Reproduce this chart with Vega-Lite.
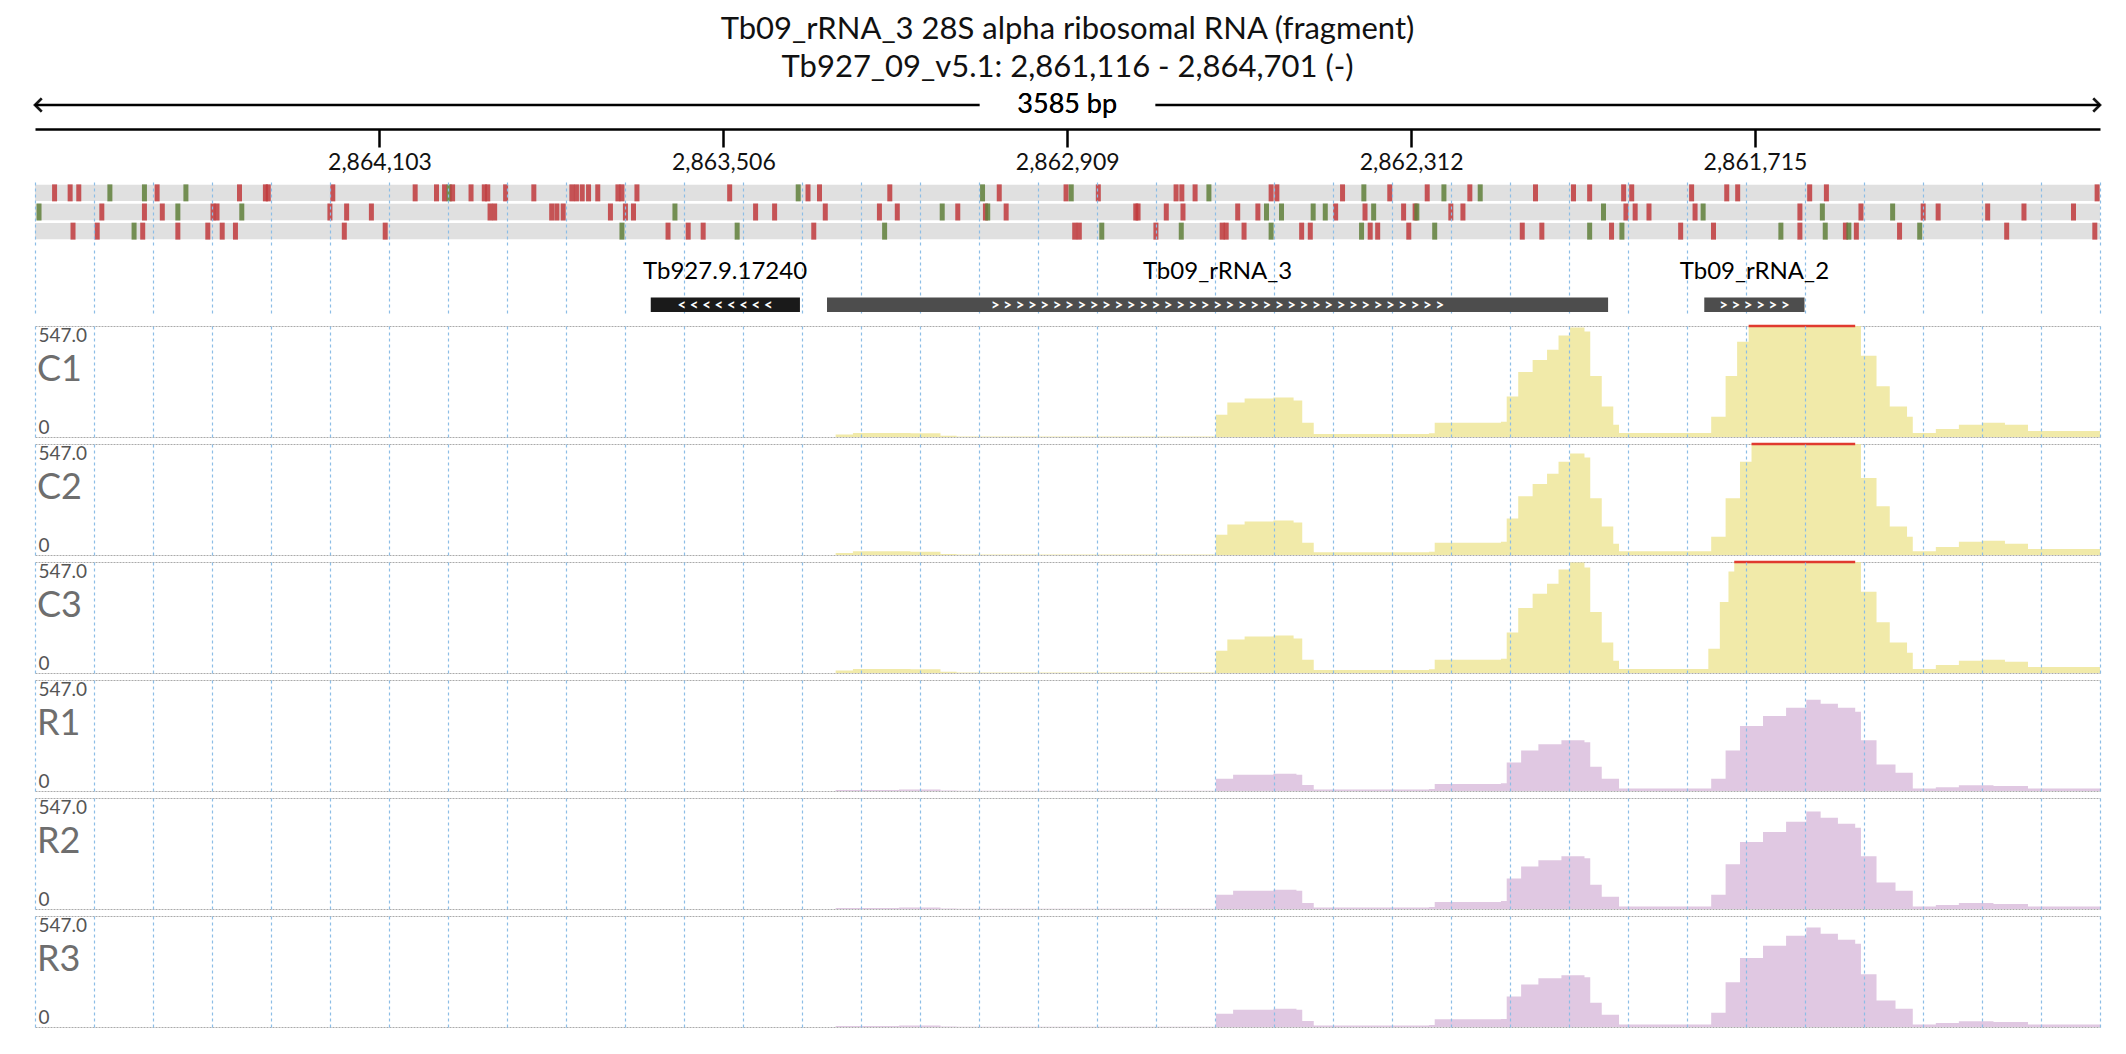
{
  "$schema": "https://vega.github.io/schema/vega-lite/v6.json",
  "background": "white",
  "padding": {"left": 30, "right": 30, "top": 14, "bottom": 5},
  "title": {
    "text": ["Tb09_rRNA_3  28S alpha ribosomal RNA (fragment)", "Tb927_09_v5.1: 2,861,116 - 2,864,701 (-)"],
    "fontSize": 31, "font": "Lato", "fontWeight": "normal", "color": "#111", "lineHeight": 38, "anchor": "middle", "offset": 6
  },
  "config": {
    "view": {"stroke": null},
    "font": "Lato",
    "concat": {"spacing": 5}
  },
  "resolve": {"scale": {"color": "independent"}},
  "vconcat": [
    {
      "width": 2065, "height": 30,
      "data": {"values": [{"start": 0, "end": 1640}, {"start": 1945, "end": 3585}]},
      "layer": [
        {"mark": {"type": "rule", "color": "black", "strokeWidth": 2.5},
         "encoding": {"x": {"field": "start", "type": "quantitative", "scale": {"domain": [0, 3585], "nice": false, "zero": false}, "axis": null},
                      "x2": {"field": "end"}, "y": {"datum": 0.5, "type": "quantitative", "scale": {"domain": [0, 1]}, "axis": null}}},
        {"mark": {"type": "point", "shape": "M1,-1L0,0L1,1", "filled": false, "stroke": "black", "strokeWidth": 2.5, "size": 180},
         "encoding": {"x": {"datum": 0, "type": "quantitative"}, "y": {"datum": 0.5, "type": "quantitative"}}},
        {"mark": {"type": "point", "shape": "M-1,-1L0,0L-1,1", "filled": false, "stroke": "black", "strokeWidth": 2.5, "size": 180},
         "encoding": {"x": {"datum": 3585, "type": "quantitative"}, "y": {"datum": 0.5, "type": "quantitative"}}},
        {"mark": {"type": "text", "fontSize": 27, "font": "Lato", "fontWeight": "normal", "baseline": "middle"},
         "encoding": {"x": {"datum": 1792, "type": "quantitative"}, "y": {"datum": 0.5, "type": "quantitative"}, "text": {"value": "3585 bp"}}}
      ]
    },
    {
      "width": 2065, "height": 1,
      "data": {"values": [{"offset": 0}]},
      "mark": {"type": "point", "opacity": 0},
      "encoding": {
        "x": {"field": "offset", "type": "quantitative", "scale": {"domain": [0, 3585], "nice": false, "zero": false},
              "axis": {"orient": "bottom", "values": [598, 1195, 1792, 2389, 2986], "labelExpr": "format(2864701 - datum.value, ',')",
                       "domainColor": "black", "domainWidth": 2.5, "tickColor": "black", "tickWidth": 2.5, "tickSize": 18,
                       "labelFontSize": 23, "labelFont": "Lato", "labelColor": "#111", "labelPadding": 4, "title": null, "grid": false}}
      }
    },
    {
      "width": 2065, "height": 66,
      "data": {"values": [
        {"frame": 1, "offset": 34, "type": "r"}, {"frame": 1, "offset": 61, "type": "r"}, {"frame": 1, "offset": 76, "type": "r"}, {"frame": 1, "offset": 130, "type": "g"},
        {"frame": 1, "offset": 190, "type": "g"}, {"frame": 1, "offset": 212, "type": "r"}, {"frame": 1, "offset": 262, "type": "g"}, {"frame": 1, "offset": 355, "type": "r"},
        {"frame": 1, "offset": 400, "type": "r"}, {"frame": 1, "offset": 405, "type": "r"}, {"frame": 1, "offset": 517, "type": "r"}, {"frame": 1, "offset": 660, "type": "r"},
        {"frame": 1, "offset": 697, "type": "r"}, {"frame": 1, "offset": 711, "type": "r"}, {"frame": 1, "offset": 719, "type": "g"}, {"frame": 1, "offset": 725, "type": "r"},
        {"frame": 1, "offset": 757, "type": "r"}, {"frame": 1, "offset": 780, "type": "r"}, {"frame": 1, "offset": 786, "type": "r"}, {"frame": 1, "offset": 817, "type": "r"},
        {"frame": 1, "offset": 866, "type": "r"}, {"frame": 1, "offset": 932, "type": "r"}, {"frame": 1, "offset": 940, "type": "r"}, {"frame": 1, "offset": 950, "type": "r"},
        {"frame": 1, "offset": 961, "type": "r"}, {"frame": 1, "offset": 977, "type": "r"}, {"frame": 1, "offset": 1012, "type": "r"}, {"frame": 1, "offset": 1019, "type": "r"},
        {"frame": 1, "offset": 1045, "type": "r"}, {"frame": 1, "offset": 1206, "type": "r"}, {"frame": 1, "offset": 1325, "type": "g"}, {"frame": 1, "offset": 1342, "type": "r"},
        {"frame": 1, "offset": 1362, "type": "r"}, {"frame": 1, "offset": 1484, "type": "r"}, {"frame": 1, "offset": 1645, "type": "g"}, {"frame": 1, "offset": 1674, "type": "r"},
        {"frame": 1, "offset": 1790, "type": "r"}, {"frame": 1, "offset": 1799, "type": "g"}, {"frame": 1, "offset": 1846, "type": "r"}, {"frame": 1, "offset": 1981, "type": "r"},
        {"frame": 1, "offset": 1991, "type": "r"}, {"frame": 1, "offset": 2014, "type": "r"}, {"frame": 1, "offset": 2038, "type": "g"}, {"frame": 1, "offset": 2146, "type": "r"},
        {"frame": 1, "offset": 2156, "type": "r"}, {"frame": 1, "offset": 2270, "type": "r"}, {"frame": 1, "offset": 2307, "type": "g"}, {"frame": 1, "offset": 2352, "type": "r"},
        {"frame": 1, "offset": 2417, "type": "r"}, {"frame": 1, "offset": 2446, "type": "g"}, {"frame": 1, "offset": 2491, "type": "r"}, {"frame": 1, "offset": 2509, "type": "g"},
        {"frame": 1, "offset": 2605, "type": "r"}, {"frame": 1, "offset": 2671, "type": "r"}, {"frame": 1, "offset": 2699, "type": "r"}, {"frame": 1, "offset": 2758, "type": "r"},
        {"frame": 1, "offset": 2772, "type": "r"}, {"frame": 1, "offset": 2876, "type": "r"}, {"frame": 1, "offset": 2937, "type": "r"}, {"frame": 1, "offset": 2956, "type": "r"},
        {"frame": 1, "offset": 3081, "type": "r"}, {"frame": 1, "offset": 3110, "type": "r"}, {"frame": 1, "offset": 3580, "type": "r"},
        {"frame": 2, "offset": 7, "type": "g"}, {"frame": 2, "offset": 116, "type": "r"}, {"frame": 2, "offset": 190, "type": "r"}, {"frame": 2, "offset": 221, "type": "r"},
        {"frame": 2, "offset": 248, "type": "g"}, {"frame": 2, "offset": 309, "type": "r"}, {"frame": 2, "offset": 316, "type": "r"}, {"frame": 2, "offset": 359, "type": "g"},
        {"frame": 2, "offset": 512, "type": "r"}, {"frame": 2, "offset": 541, "type": "r"}, {"frame": 2, "offset": 584, "type": "r"}, {"frame": 2, "offset": 790, "type": "r"},
        {"frame": 2, "offset": 798, "type": "r"}, {"frame": 2, "offset": 897, "type": "r"}, {"frame": 2, "offset": 906, "type": "r"}, {"frame": 2, "offset": 917, "type": "r"},
        {"frame": 2, "offset": 999, "type": "r"}, {"frame": 2, "offset": 1025, "type": "r"}, {"frame": 2, "offset": 1039, "type": "r"}, {"frame": 2, "offset": 1111, "type": "g"},
        {"frame": 2, "offset": 1251, "type": "r"}, {"frame": 2, "offset": 1284, "type": "r"}, {"frame": 2, "offset": 1372, "type": "r"}, {"frame": 2, "offset": 1466, "type": "r"},
        {"frame": 2, "offset": 1497, "type": "r"}, {"frame": 2, "offset": 1575, "type": "g"}, {"frame": 2, "offset": 1602, "type": "r"}, {"frame": 2, "offset": 1650, "type": "r"},
        {"frame": 2, "offset": 1654, "type": "g"}, {"frame": 2, "offset": 1686, "type": "r"}, {"frame": 2, "offset": 1911, "type": "r"}, {"frame": 2, "offset": 1915, "type": "r"},
        {"frame": 2, "offset": 1964, "type": "r"}, {"frame": 2, "offset": 1993, "type": "r"}, {"frame": 2, "offset": 2088, "type": "r"}, {"frame": 2, "offset": 2123, "type": "r"},
        {"frame": 2, "offset": 2138, "type": "g"}, {"frame": 2, "offset": 2164, "type": "g"}, {"frame": 2, "offset": 2219, "type": "g"}, {"frame": 2, "offset": 2240, "type": "g"},
        {"frame": 2, "offset": 2258, "type": "r"}, {"frame": 2, "offset": 2309, "type": "r"}, {"frame": 2, "offset": 2324, "type": "g"}, {"frame": 2, "offset": 2376, "type": "r"},
        {"frame": 2, "offset": 2396, "type": "r"}, {"frame": 2, "offset": 2399, "type": "g"}, {"frame": 2, "offset": 2458, "type": "r"}, {"frame": 2, "offset": 2479, "type": "r"},
        {"frame": 2, "offset": 2723, "type": "g"}, {"frame": 2, "offset": 2762, "type": "r"}, {"frame": 2, "offset": 2778, "type": "r"}, {"frame": 2, "offset": 2802, "type": "r"},
        {"frame": 2, "offset": 2882, "type": "r"}, {"frame": 2, "offset": 2896, "type": "g"}, {"frame": 2, "offset": 3064, "type": "r"}, {"frame": 2, "offset": 3103, "type": "g"},
        {"frame": 2, "offset": 3170, "type": "r"}, {"frame": 2, "offset": 3225, "type": "g"}, {"frame": 2, "offset": 3278, "type": "r"}, {"frame": 2, "offset": 3304, "type": "r"},
        {"frame": 2, "offset": 3390, "type": "r"}, {"frame": 2, "offset": 3453, "type": "r"}, {"frame": 2, "offset": 3539, "type": "r"},
        {"frame": 3, "offset": 66, "type": "r"}, {"frame": 3, "offset": 108, "type": "r"}, {"frame": 3, "offset": 172, "type": "g"}, {"frame": 3, "offset": 187, "type": "r"},
        {"frame": 3, "offset": 248, "type": "r"}, {"frame": 3, "offset": 300, "type": "r"}, {"frame": 3, "offset": 325, "type": "r"}, {"frame": 3, "offset": 348, "type": "r"},
        {"frame": 3, "offset": 537, "type": "r"}, {"frame": 3, "offset": 608, "type": "r"}, {"frame": 3, "offset": 1019, "type": "g"}, {"frame": 3, "offset": 1099, "type": "r"},
        {"frame": 3, "offset": 1134, "type": "r"}, {"frame": 3, "offset": 1160, "type": "r"}, {"frame": 3, "offset": 1219, "type": "g"}, {"frame": 3, "offset": 1352, "type": "r"},
        {"frame": 3, "offset": 1475, "type": "g"}, {"frame": 3, "offset": 1805, "type": "r"}, {"frame": 3, "offset": 1813, "type": "r"}, {"frame": 3, "offset": 1852, "type": "g"},
        {"frame": 3, "offset": 1946, "type": "r"}, {"frame": 3, "offset": 1990, "type": "g"}, {"frame": 3, "offset": 2061, "type": "r"}, {"frame": 3, "offset": 2068, "type": "r"},
        {"frame": 3, "offset": 2099, "type": "r"}, {"frame": 3, "offset": 2146, "type": "g"}, {"frame": 3, "offset": 2199, "type": "r"}, {"frame": 3, "offset": 2214, "type": "r"},
        {"frame": 3, "offset": 2303, "type": "g"}, {"frame": 3, "offset": 2318, "type": "r"}, {"frame": 3, "offset": 2331, "type": "r"}, {"frame": 3, "offset": 2385, "type": "r"},
        {"frame": 3, "offset": 2430, "type": "g"}, {"frame": 3, "offset": 2582, "type": "r"}, {"frame": 3, "offset": 2616, "type": "r"}, {"frame": 3, "offset": 2699, "type": "g"},
        {"frame": 3, "offset": 2737, "type": "r"}, {"frame": 3, "offset": 2755, "type": "g"}, {"frame": 3, "offset": 2857, "type": "r"}, {"frame": 3, "offset": 2914, "type": "r"},
        {"frame": 3, "offset": 3031, "type": "g"}, {"frame": 3, "offset": 3064, "type": "r"}, {"frame": 3, "offset": 3108, "type": "g"}, {"frame": 3, "offset": 3143, "type": "r"},
        {"frame": 3, "offset": 3149, "type": "g"}, {"frame": 3, "offset": 3162, "type": "r"}, {"frame": 3, "offset": 3237, "type": "r"}, {"frame": 3, "offset": 3272, "type": "g"},
        {"frame": 3, "offset": 3423, "type": "r"}, {"frame": 3, "offset": 3576, "type": "r"}
      ]},
      "encoding": {
        "y": {"field": "frame", "type": "ordinal", "scale": {"domain": [1, 2, 3], "paddingInner": 0.15, "paddingOuter": 0.3}, "axis": null}
      },
      "layer": [
        {"data": {"values": [{"frame": 1}, {"frame": 2}, {"frame": 3}]},
         "mark": {"type": "rect", "color": "#e0e0e0"},
         "encoding": {"x": {"datum": 0, "type": "quantitative", "scale": {"domain": [0, 3585], "nice": false, "zero": false},
                            "axis": {"values": [0, 102, 205, 307, 410, 512, 615, 717, 819, 922, 1024, 1127, 1229, 1332, 1434, 1536, 1639, 1741, 1844, 1946, 2049, 2151, 2254, 2356, 2458, 2561, 2663, 2766, 2868, 2971, 3073, 3175, 3278, 3380, 3483, 3585],
                                     "grid": true, "gridColor": "#8cbde6", "gridDash": [3, 3], "gridWidth": 1.2, "labels": false, "ticks": false, "domain": false, "title": null, "zindex": 1}},
                      "x2": {"datum": 3585}}},
        {"mark": {"type": "tick", "thickness": 5, "size": 17, "opacity": 0.85},
         "encoding": {"x": {"field": "offset", "type": "quantitative"},
                      "color": {"field": "type", "type": "nominal", "scale": {"domain": ["r", "g"], "range": ["#c0393c", "#5f7f3a"]}, "legend": null}}}
      ]
    },
    {
      "width": 2065, "height": 66,
      "data": {"values": [
        {"gene": "Tb927.9.17240", "start": 1069, "end": 1328, "mid": 1198, "arrows": "<   <   <   <   <   <   <   <"},
        {"gene": "Tb09_rRNA_3", "start": 1375, "end": 2731, "mid": 2053, "arrows": ">   >   >   >   >   >   >   >   >   >   >   >   >   >   >   >   >   >   >   >   >   >   >   >   >   >   >   >   >   >   >   >   >   >   >   >   >"},
        {"gene": "Tb09_rRNA_2", "start": 2898, "end": 3072, "mid": 2985, "arrows": ">   >   >   >   >   >"}
      ]},
      "encoding": {"y": {"datum": 0, "type": "quantitative", "scale": {"domain": [0, 1]}, "axis": null}},
      "layer": [
        {"mark": {"type": "rect"},
         "encoding": {"x": {"field": "start", "type": "quantitative", "scale": {"domain": [0, 3585], "nice": false, "zero": false},
                            "axis": {"values": [0, 102, 205, 307, 410, 512, 615, 717, 819, 922, 1024, 1127, 1229, 1332, 1434, 1536, 1639, 1741, 1844, 1946, 2049, 2151, 2254, 2356, 2458, 2561, 2663, 2766, 2868, 2971, 3073, 3175, 3278, 3380, 3483, 3585],
                                     "grid": true, "gridColor": "#8cbde6", "gridDash": [3, 3], "gridWidth": 1.2, "labels": false, "ticks": false, "domain": false, "title": null, "zindex": 0}},
                      "x2": {"field": "end"},
                      "y": {"datum": 0.06, "type": "quantitative"}, "y2": {"datum": 0.28},
                      "color": {"field": "gene", "type": "nominal", "scale": {"domain": ["Tb927.9.17240", "Tb09_rRNA_3", "Tb09_rRNA_2"], "range": ["#1a1a1a", "#4d4d4d", "#4d4d4d"]}, "legend": null}}},
        {"mark": {"type": "text", "color": "white", "fontSize": 15, "fontWeight": "bold", "baseline": "middle", "align": "center"},
         "encoding": {"x": {"field": "mid", "type": "quantitative"},
                      "y": {"datum": 0.17, "type": "quantitative"}, "text": {"field": "arrows"}}},
        {"mark": {"type": "text", "color": "black", "fontSize": 24, "baseline": "middle", "align": "center"},
         "encoding": {"x": {"field": "mid", "type": "quantitative"},
                      "y": {"datum": 0.66, "type": "quantitative"}, "text": {"field": "gene"}}}
      ]
    },
    {
      "data": {"values": [
        {"sample": "C1", "offset": 0, "cov": 0}, {"sample": "C1", "offset": 1380, "cov": 0}, {"sample": "C1", "offset": 1390, "cov": 12}, {"sample": "C1", "offset": 1420, "cov": 20},
        {"sample": "C1", "offset": 1520, "cov": 18}, {"sample": "C1", "offset": 1572, "cov": 6}, {"sample": "C1", "offset": 1600, "cov": 2}, {"sample": "C1", "offset": 2040, "cov": 2},
        {"sample": "C1", "offset": 2050, "cov": 110}, {"sample": "C1", "offset": 2070, "cov": 170}, {"sample": "C1", "offset": 2100, "cov": 190}, {"sample": "C1", "offset": 2150, "cov": 195},
        {"sample": "C1", "offset": 2185, "cov": 180}, {"sample": "C1", "offset": 2200, "cov": 70}, {"sample": "C1", "offset": 2220, "cov": 15}, {"sample": "C1", "offset": 2420, "cov": 18},
        {"sample": "C1", "offset": 2430, "cov": 70}, {"sample": "C1", "offset": 2545, "cov": 75}, {"sample": "C1", "offset": 2555, "cov": 200}, {"sample": "C1", "offset": 2575, "cov": 320},
        {"sample": "C1", "offset": 2600, "cov": 380}, {"sample": "C1", "offset": 2625, "cov": 430}, {"sample": "C1", "offset": 2645, "cov": 500}, {"sample": "C1", "offset": 2665, "cov": 540},
        {"sample": "C1", "offset": 2690, "cov": 520}, {"sample": "C1", "offset": 2700, "cov": 300}, {"sample": "C1", "offset": 2720, "cov": 150}, {"sample": "C1", "offset": 2740, "cov": 60},
        {"sample": "C1", "offset": 2750, "cov": 20}, {"sample": "C1", "offset": 2900, "cov": 20}, {"sample": "C1", "offset": 2910, "cov": 100}, {"sample": "C1", "offset": 2935, "cov": 300},
        {"sample": "C1", "offset": 2955, "cov": 470}, {"sample": "C1", "offset": 2975, "cov": 547}, {"sample": "C1", "offset": 3160, "cov": 547}, {"sample": "C1", "offset": 3170, "cov": 400},
        {"sample": "C1", "offset": 3197, "cov": 250}, {"sample": "C1", "offset": 3220, "cov": 150}, {"sample": "C1", "offset": 3250, "cov": 100}, {"sample": "C1", "offset": 3260, "cov": 20},
        {"sample": "C1", "offset": 3300, "cov": 40}, {"sample": "C1", "offset": 3340, "cov": 60}, {"sample": "C1", "offset": 3380, "cov": 70}, {"sample": "C1", "offset": 3420, "cov": 60},
        {"sample": "C1", "offset": 3460, "cov": 30}, {"sample": "C1", "offset": 3585, "cov": 25},

        {"sample": "C2", "offset": 0, "cov": 0}, {"sample": "C2", "offset": 1380, "cov": 0}, {"sample": "C2", "offset": 1390, "cov": 10}, {"sample": "C2", "offset": 1420, "cov": 18},
        {"sample": "C2", "offset": 1520, "cov": 16}, {"sample": "C2", "offset": 1572, "cov": 5}, {"sample": "C2", "offset": 1600, "cov": 2}, {"sample": "C2", "offset": 2040, "cov": 2},
        {"sample": "C2", "offset": 2050, "cov": 100}, {"sample": "C2", "offset": 2070, "cov": 150}, {"sample": "C2", "offset": 2100, "cov": 165}, {"sample": "C2", "offset": 2150, "cov": 170},
        {"sample": "C2", "offset": 2185, "cov": 160}, {"sample": "C2", "offset": 2200, "cov": 60}, {"sample": "C2", "offset": 2220, "cov": 14}, {"sample": "C2", "offset": 2420, "cov": 16},
        {"sample": "C2", "offset": 2430, "cov": 60}, {"sample": "C2", "offset": 2545, "cov": 65}, {"sample": "C2", "offset": 2555, "cov": 180}, {"sample": "C2", "offset": 2575, "cov": 290},
        {"sample": "C2", "offset": 2600, "cov": 350}, {"sample": "C2", "offset": 2625, "cov": 400}, {"sample": "C2", "offset": 2645, "cov": 460}, {"sample": "C2", "offset": 2665, "cov": 500},
        {"sample": "C2", "offset": 2690, "cov": 480}, {"sample": "C2", "offset": 2700, "cov": 280}, {"sample": "C2", "offset": 2720, "cov": 140}, {"sample": "C2", "offset": 2740, "cov": 55},
        {"sample": "C2", "offset": 2750, "cov": 18}, {"sample": "C2", "offset": 2900, "cov": 18}, {"sample": "C2", "offset": 2910, "cov": 90}, {"sample": "C2", "offset": 2935, "cov": 280},
        {"sample": "C2", "offset": 2960, "cov": 460}, {"sample": "C2", "offset": 2980, "cov": 547}, {"sample": "C2", "offset": 3160, "cov": 547}, {"sample": "C2", "offset": 3170, "cov": 380},
        {"sample": "C2", "offset": 3197, "cov": 240}, {"sample": "C2", "offset": 3220, "cov": 140}, {"sample": "C2", "offset": 3250, "cov": 90}, {"sample": "C2", "offset": 3260, "cov": 18},
        {"sample": "C2", "offset": 3300, "cov": 40}, {"sample": "C2", "offset": 3340, "cov": 65}, {"sample": "C2", "offset": 3380, "cov": 70}, {"sample": "C2", "offset": 3420, "cov": 55},
        {"sample": "C2", "offset": 3460, "cov": 30}, {"sample": "C2", "offset": 3585, "cov": 25},

        {"sample": "C3", "offset": 0, "cov": 0}, {"sample": "C3", "offset": 1380, "cov": 0}, {"sample": "C3", "offset": 1390, "cov": 12}, {"sample": "C3", "offset": 1420, "cov": 20},
        {"sample": "C3", "offset": 1520, "cov": 18}, {"sample": "C3", "offset": 1572, "cov": 6}, {"sample": "C3", "offset": 1600, "cov": 2}, {"sample": "C3", "offset": 2040, "cov": 2},
        {"sample": "C3", "offset": 2050, "cov": 110}, {"sample": "C3", "offset": 2070, "cov": 165}, {"sample": "C3", "offset": 2100, "cov": 180}, {"sample": "C3", "offset": 2150, "cov": 185},
        {"sample": "C3", "offset": 2185, "cov": 170}, {"sample": "C3", "offset": 2200, "cov": 65}, {"sample": "C3", "offset": 2220, "cov": 15}, {"sample": "C3", "offset": 2420, "cov": 18},
        {"sample": "C3", "offset": 2430, "cov": 65}, {"sample": "C3", "offset": 2545, "cov": 70}, {"sample": "C3", "offset": 2555, "cov": 200}, {"sample": "C3", "offset": 2575, "cov": 320},
        {"sample": "C3", "offset": 2600, "cov": 390}, {"sample": "C3", "offset": 2625, "cov": 440}, {"sample": "C3", "offset": 2645, "cov": 510}, {"sample": "C3", "offset": 2665, "cov": 545},
        {"sample": "C3", "offset": 2690, "cov": 520}, {"sample": "C3", "offset": 2700, "cov": 300}, {"sample": "C3", "offset": 2720, "cov": 150}, {"sample": "C3", "offset": 2740, "cov": 60},
        {"sample": "C3", "offset": 2750, "cov": 20}, {"sample": "C3", "offset": 2895, "cov": 20}, {"sample": "C3", "offset": 2905, "cov": 120}, {"sample": "C3", "offset": 2925, "cov": 350},
        {"sample": "C3", "offset": 2940, "cov": 500}, {"sample": "C3", "offset": 2950, "cov": 547}, {"sample": "C3", "offset": 3160, "cov": 547}, {"sample": "C3", "offset": 3170, "cov": 400},
        {"sample": "C3", "offset": 3197, "cov": 250}, {"sample": "C3", "offset": 3220, "cov": 150}, {"sample": "C3", "offset": 3250, "cov": 100}, {"sample": "C3", "offset": 3260, "cov": 20},
        {"sample": "C3", "offset": 3300, "cov": 40}, {"sample": "C3", "offset": 3340, "cov": 60}, {"sample": "C3", "offset": 3380, "cov": 65}, {"sample": "C3", "offset": 3420, "cov": 55},
        {"sample": "C3", "offset": 3460, "cov": 30}, {"sample": "C3", "offset": 3585, "cov": 25},

        {"sample": "R1", "offset": 0, "cov": 0}, {"sample": "R1", "offset": 1380, "cov": 0}, {"sample": "R1", "offset": 1390, "cov": 5}, {"sample": "R1", "offset": 1500, "cov": 7},
        {"sample": "R1", "offset": 1572, "cov": 3}, {"sample": "R1", "offset": 1600, "cov": 1}, {"sample": "R1", "offset": 2040, "cov": 1}, {"sample": "R1", "offset": 2050, "cov": 60},
        {"sample": "R1", "offset": 2080, "cov": 80}, {"sample": "R1", "offset": 2150, "cov": 85}, {"sample": "R1", "offset": 2190, "cov": 80}, {"sample": "R1", "offset": 2200, "cov": 30},
        {"sample": "R1", "offset": 2220, "cov": 8}, {"sample": "R1", "offset": 2420, "cov": 10}, {"sample": "R1", "offset": 2430, "cov": 35}, {"sample": "R1", "offset": 2545, "cov": 38},
        {"sample": "R1", "offset": 2555, "cov": 140}, {"sample": "R1", "offset": 2580, "cov": 200}, {"sample": "R1", "offset": 2610, "cov": 230}, {"sample": "R1", "offset": 2650, "cov": 250},
        {"sample": "R1", "offset": 2690, "cov": 240}, {"sample": "R1", "offset": 2700, "cov": 120}, {"sample": "R1", "offset": 2720, "cov": 60}, {"sample": "R1", "offset": 2750, "cov": 12},
        {"sample": "R1", "offset": 2900, "cov": 12}, {"sample": "R1", "offset": 2910, "cov": 60}, {"sample": "R1", "offset": 2935, "cov": 200}, {"sample": "R1", "offset": 2960, "cov": 320},
        {"sample": "R1", "offset": 3000, "cov": 370}, {"sample": "R1", "offset": 3040, "cov": 410}, {"sample": "R1", "offset": 3075, "cov": 450}, {"sample": "R1", "offset": 3100, "cov": 430},
        {"sample": "R1", "offset": 3130, "cov": 410}, {"sample": "R1", "offset": 3160, "cov": 390}, {"sample": "R1", "offset": 3170, "cov": 250}, {"sample": "R1", "offset": 3197, "cov": 130},
        {"sample": "R1", "offset": 3230, "cov": 90}, {"sample": "R1", "offset": 3260, "cov": 12}, {"sample": "R1", "offset": 3300, "cov": 18}, {"sample": "R1", "offset": 3340, "cov": 28},
        {"sample": "R1", "offset": 3400, "cov": 25}, {"sample": "R1", "offset": 3460, "cov": 12}, {"sample": "R1", "offset": 3585, "cov": 6},

        {"sample": "R2", "offset": 0, "cov": 0}, {"sample": "R2", "offset": 1380, "cov": 0}, {"sample": "R2", "offset": 1390, "cov": 5}, {"sample": "R2", "offset": 1500, "cov": 8},
        {"sample": "R2", "offset": 1572, "cov": 3}, {"sample": "R2", "offset": 1600, "cov": 1}, {"sample": "R2", "offset": 2040, "cov": 1}, {"sample": "R2", "offset": 2050, "cov": 70},
        {"sample": "R2", "offset": 2080, "cov": 90}, {"sample": "R2", "offset": 2150, "cov": 95}, {"sample": "R2", "offset": 2190, "cov": 90}, {"sample": "R2", "offset": 2200, "cov": 30},
        {"sample": "R2", "offset": 2220, "cov": 8}, {"sample": "R2", "offset": 2420, "cov": 10}, {"sample": "R2", "offset": 2430, "cov": 35}, {"sample": "R2", "offset": 2545, "cov": 40},
        {"sample": "R2", "offset": 2555, "cov": 150}, {"sample": "R2", "offset": 2580, "cov": 210}, {"sample": "R2", "offset": 2610, "cov": 240}, {"sample": "R2", "offset": 2650, "cov": 260},
        {"sample": "R2", "offset": 2690, "cov": 250}, {"sample": "R2", "offset": 2700, "cov": 120}, {"sample": "R2", "offset": 2720, "cov": 60}, {"sample": "R2", "offset": 2750, "cov": 12},
        {"sample": "R2", "offset": 2900, "cov": 12}, {"sample": "R2", "offset": 2910, "cov": 70}, {"sample": "R2", "offset": 2935, "cov": 220}, {"sample": "R2", "offset": 2960, "cov": 330},
        {"sample": "R2", "offset": 3000, "cov": 380}, {"sample": "R2", "offset": 3040, "cov": 430}, {"sample": "R2", "offset": 3075, "cov": 480}, {"sample": "R2", "offset": 3100, "cov": 450},
        {"sample": "R2", "offset": 3130, "cov": 420}, {"sample": "R2", "offset": 3160, "cov": 400}, {"sample": "R2", "offset": 3170, "cov": 260}, {"sample": "R2", "offset": 3197, "cov": 130},
        {"sample": "R2", "offset": 3230, "cov": 90}, {"sample": "R2", "offset": 3260, "cov": 12}, {"sample": "R2", "offset": 3300, "cov": 20}, {"sample": "R2", "offset": 3340, "cov": 30},
        {"sample": "R2", "offset": 3400, "cov": 25}, {"sample": "R2", "offset": 3460, "cov": 12}, {"sample": "R2", "offset": 3585, "cov": 6},

        {"sample": "R3", "offset": 0, "cov": 0}, {"sample": "R3", "offset": 1380, "cov": 0}, {"sample": "R3", "offset": 1390, "cov": 5}, {"sample": "R3", "offset": 1500, "cov": 7},
        {"sample": "R3", "offset": 1572, "cov": 3}, {"sample": "R3", "offset": 1600, "cov": 1}, {"sample": "R3", "offset": 2040, "cov": 1}, {"sample": "R3", "offset": 2050, "cov": 65},
        {"sample": "R3", "offset": 2080, "cov": 85}, {"sample": "R3", "offset": 2150, "cov": 90}, {"sample": "R3", "offset": 2190, "cov": 85}, {"sample": "R3", "offset": 2200, "cov": 30},
        {"sample": "R3", "offset": 2220, "cov": 8}, {"sample": "R3", "offset": 2420, "cov": 10}, {"sample": "R3", "offset": 2430, "cov": 38}, {"sample": "R3", "offset": 2545, "cov": 40},
        {"sample": "R3", "offset": 2555, "cov": 150}, {"sample": "R3", "offset": 2580, "cov": 210}, {"sample": "R3", "offset": 2610, "cov": 240}, {"sample": "R3", "offset": 2650, "cov": 255},
        {"sample": "R3", "offset": 2690, "cov": 245}, {"sample": "R3", "offset": 2700, "cov": 120}, {"sample": "R3", "offset": 2720, "cov": 60}, {"sample": "R3", "offset": 2750, "cov": 12},
        {"sample": "R3", "offset": 2900, "cov": 12}, {"sample": "R3", "offset": 2910, "cov": 70}, {"sample": "R3", "offset": 2935, "cov": 220}, {"sample": "R3", "offset": 2960, "cov": 340},
        {"sample": "R3", "offset": 3000, "cov": 400}, {"sample": "R3", "offset": 3040, "cov": 450}, {"sample": "R3", "offset": 3075, "cov": 490}, {"sample": "R3", "offset": 3100, "cov": 460},
        {"sample": "R3", "offset": 3130, "cov": 430}, {"sample": "R3", "offset": 3160, "cov": 410}, {"sample": "R3", "offset": 3170, "cov": 260}, {"sample": "R3", "offset": 3197, "cov": 130},
        {"sample": "R3", "offset": 3230, "cov": 90}, {"sample": "R3", "offset": 3260, "cov": 12}, {"sample": "R3", "offset": 3300, "cov": 20}, {"sample": "R3", "offset": 3340, "cov": 28},
        {"sample": "R3", "offset": 3400, "cov": 25}, {"sample": "R3", "offset": 3460, "cov": 12}, {"sample": "R3", "offset": 3585, "cov": 6}
      ]},
      "facet": {"row": {"field": "sample", "type": "nominal", "sort": ["C1", "C2", "C3", "R1", "R2", "R3"], "header": {"labels": false, "title": null}, "title": null}},
      "spacing": 2,
      "spec": {
        "width": 2065, "height": 111,
        "encoding": {
          "x": {"field": "offset", "type": "quantitative", "scale": {"domain": [0, 3585], "nice": false, "zero": false},
                "axis": {"values": [0, 102, 205, 307, 410, 512, 615, 717, 819, 922, 1024, 1127, 1229, 1332, 1434, 1536, 1639, 1741, 1844, 1946, 2049, 2151, 2254, 2356, 2458, 2561, 2663, 2766, 2868, 2971, 3073, 3175, 3278, 3380, 3483, 3585],
                         "grid": true, "gridColor": "#8cbde6", "gridDash": [3, 3], "gridWidth": 1.2, "labels": false, "ticks": false, "domain": false, "title": null, "zindex": 1}},
          "y": {"field": "cov", "type": "quantitative", "scale": {"domain": [0, 547], "nice": false, "clamp": true},
                "axis": {"values": [0, 547], "labelExpr": "datum.value == 0 ? '0' : '547.0'", "labelFlush": true, "labelAlign": "left", "labelPadding": -3,
                         "tickSize": 0, "domain": false, "labelFontSize": 19, "labelColor": "#555", "labelFont": "Lato", "title": null,
                         "grid": true, "gridColor": "#aaaaaa", "gridDash": [2, 1], "gridWidth": 1.2}}
        },
        "layer": [
          {"mark": {"type": "area", "interpolate": "step-after", "opacity": 0.85},
           "encoding": {"color": {"field": "sample", "type": "nominal", "scale": {"domain": ["C1", "C2", "C3", "R1", "R2", "R3"],
                        "range": ["#efe69a", "#efe69a", "#efe69a", "#dbbedd", "#dbbedd", "#dbbedd"]}, "legend": null}}},
          {"transform": [{"filter": "datum.cov >= 547"}],
           "mark": {"type": "line", "interpolate": "step-after", "color": "#e03a2f", "strokeWidth": 2.5},
           "encoding": {}},
          {"transform": [{"filter": "datum.offset == 0"}],
           "mark": {"type": "text", "fontSize": 36, "color": "#6e6e6e", "align": "left", "baseline": "middle", "dx": 2},
           "encoding": {"y": {"datum": 330, "type": "quantitative"}, "text": {"field": "sample"}}}
        ]
      }
    }
  ]
}
